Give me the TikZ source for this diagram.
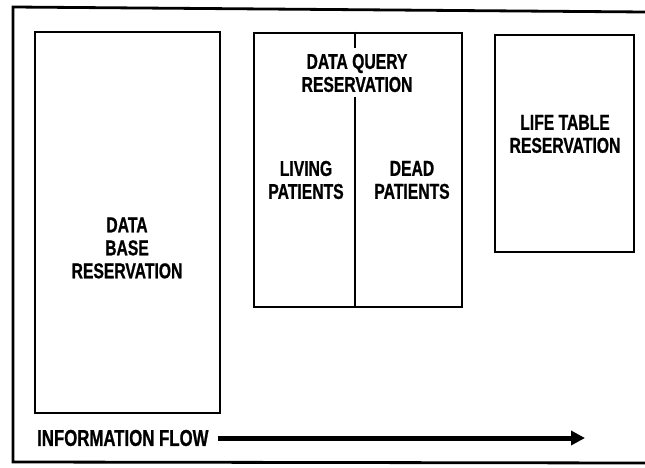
\documentclass[tikz,border=0pt]{standalone}
\usepackage{fontspec}
\usetikzlibrary{arrows.meta}
\newfontfamily\lblfont{Liberation Sans}[FakeStretch=0.73,BoldFeatures={FakeBold=0.8}]
\tikzset{
  box/.style={draw,line width=2.8pt,inner sep=0pt},
  lbl/.style={align=center,inner sep=0pt,font=\lblfont\bfseries\fontsize{21.5pt}{23pt}\selectfont},
}
\begin{document}
\begin{tikzpicture}[x=1pt,y=-1pt,>={Triangle[length=14pt,width=14pt]}]
\useasboundingbox (0,0) rectangle (645,468);
% outer frame (right side runs off the page)
\draw[line width=2.8pt] (645,12) -- (13,7) -- (13,462) -- (645,463);

\node[box,minimum width=185pt,minimum height=381pt] (dbase) at (127.5,222.5) {};
\node[box,minimum width=208pt,minimum height=274pt] (query) at (358,170) {};
\node[box,minimum width=139pt,minimum height=217pt] (life) at (564.5,143.5) {};

% split of the query box
\draw[line width=2.8pt] (query.north -| 355,0) -- (355,48);
\draw[line width=2.8pt] (355,97) -- (query.south -| 355,0);

\node[lbl] (dbtext) at (127,248) {DATA\\BASE\\RESERVATION};
\node[lbl] (qtext) at (357,73) {DATA QUERY\\RESERVATION};
\node[lbl] (living) at (306,180) {LIVING\\PATIENTS};
\node[lbl] (dead) at (412,180) {DEAD\\PATIENTS};
\node[lbl] (lifetext) at (565,134) {LIFE TABLE\\RESERVATION};

\node[lbl,font=\lblfont\bfseries\fontsize{23pt}{24pt}\selectfont,anchor=west] (info) at (37,438) {INFORMATION FLOW};
\coordinate (flowend) at (585,437);
\draw[->,line width=5pt] ([xshift=9pt]info.east) -- (info.east -| flowend);
\end{tikzpicture}
\end{document}
